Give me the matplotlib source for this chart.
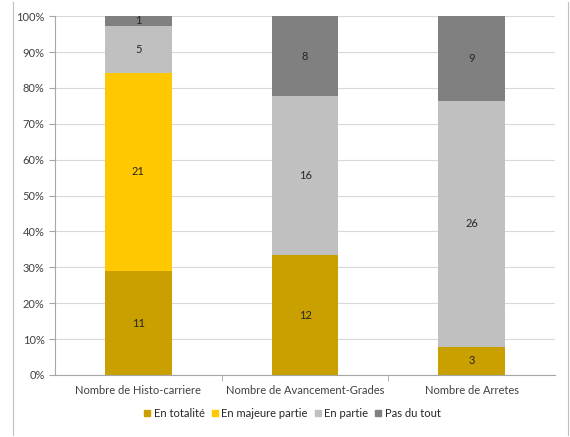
import numpy as np
import matplotlib
matplotlib.use("Agg")
import matplotlib.pyplot as plt
from matplotlib.lines import Line2D
from matplotlib.ticker import FuncFormatter

plt.rcParams["font.family"] = ["Lato", "DejaVu Sans"]

categories = ["Nombre de Histo-carriere", "Nombre de Avancement-Grades", "Nombre de Arretes"]
series_names = ["En totalité", "En majeure partie", "En partie", "Pas du tout"]
en_totalite = [11, 12, 3]
en_majeure = [21, 0, 0]
en_partie = [5, 16, 26]
pas_du_tout = [1, 8, 9]
colors = ["#C9A000", "#FFC800", "#C0C0C0", "#808080"]

counts = np.array([en_totalite, en_majeure, en_partie, pas_du_tout], dtype=float)
totals = counts.sum(axis=0)
shares = counts / totals * 100

fig = plt.figure(figsize=(5.7, 4.37), dpi=100)
ax = fig.add_axes([0.0965, 0.142, 0.8775, 0.821])

x = np.arange(len(categories))
bottom = np.zeros(len(categories))
for name, vals, cnt, col in zip(series_names, shares, counts, colors):
    ax.bar(x, vals, 0.4, bottom=bottom, color=col, label=name, zorder=2)
    for xi, v, b, c in zip(x, vals, bottom, cnt):
        if c > 0:
            ax.text(xi, b + v / 2, f"{int(c)}", ha="center", va="center",
                    fontsize=8, color="#262626", zorder=3)
    bottom += vals

ax.set_xlim(-0.5, len(categories) - 0.5)
ax.set_ylim(0, 100)
ax.set_yticks(np.arange(0, 101, 10))
ax.yaxis.set_major_formatter(FuncFormatter(lambda v, p: f"{int(v)}%"))
ax.grid(axis="y", color="#D9D9D9", linewidth=0.8, zorder=0)

ax.set_xticks(x)
ax.set_xticklabels(categories)
ax.set_xticks(x[:-1] + 0.5, minor=True)
ax.tick_params(axis="x", which="major", length=0, labelsize=8, colors="#404040", pad=7)
ax.tick_params(axis="x", which="minor", length=4, color="#A6A6A6")
ax.tick_params(axis="y", length=4, color="#A6A6A6", labelsize=8, labelcolor="#404040")

for side in ["top", "right"]:
    ax.spines[side].set_visible(False)
for side in ["left", "bottom"]:
    ax.spines[side].set_color("#A6A6A6")
    ax.spines[side].set_linewidth(0.8)

handles = [Line2D([], [], marker="s", linestyle="", markersize=5,
                  markerfacecolor=c, markeredgecolor=c) for c in colors]
fig.legend(handles, series_names, loc="center", bbox_to_anchor=(0.51, 0.054),
           ncol=4, frameon=False, fontsize=8, handletextpad=0.0,
           columnspacing=0.3, handlelength=1.2, labelcolor="#262626")

# outer chart frame
frame_color = "#BFBFBF"
fig.add_artist(Line2D([13 / 570, 13 / 570], [0.005, 0.995], color=frame_color, lw=0.8))
fig.add_artist(Line2D([568 / 570, 568 / 570], [0.005, 0.995], color=frame_color, lw=0.8))

fig.savefig("out.png", dpi=100)
